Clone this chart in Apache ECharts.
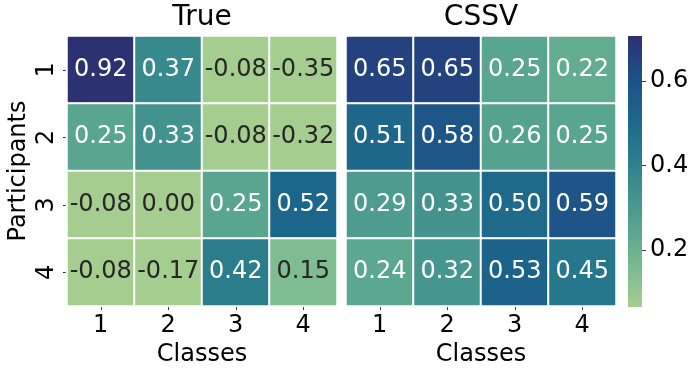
<!DOCTYPE html>
<html>
<head>
<meta charset="utf-8">
<script src="https://cdn.jsdelivr.net/npm/echarts@6/dist/echarts.min.js"></script>
<style>
  html, body { margin: 0; padding: 0; background: #fff; }
  #chart { width: 694px; height: 373px; }
</style>
</head>
<body>
<div id="chart"></div>
<script>
  'use strict'
  // categories
  var classes = ['1', '2', '3', '4'];
  var participants = ['1', '2', '3', '4'];
  // rows = participants, cols = classes
  var trueVals = [
    [0.92, 0.37, -0.08, -0.35],
    [0.25, 0.33, -0.08, -0.32],
    [-0.08, 0.00, 0.25, 0.52],
    [-0.08, -0.17, 0.42, 0.15]
  ];
  var cssvVals = [
    [0.65, 0.65, 0.25, 0.22],
    [0.51, 0.58, 0.26, 0.25],
    [0.29, 0.33, 0.50, 0.59],
    [0.24, 0.32, 0.53, 0.45]
  ];
  var cbarTicks = [0.2, 0.4, 0.6];
  var vmin = 0.066, vmax = 0.706;

  // seaborn "crest"
  var crest = ['#a5cd90', '#7dba91', '#59a590', '#40908e', '#287a8c', '#1c648b', '#1f4e85', '#2c3172'];
  var font = 'DejaVu Sans';
  var fs = 24;

  function buildData(vals) {
    var out = [];
    vals.forEach(function (row, r) {
      row.forEach(function (v, c) {
        var cv = Math.min(vmax, Math.max(vmin, v));
        var t = (cv - vmin) / (vmax - vmin);
        out.push({
          value: [c, r, cv, v],
          label: { color: t > 0.19 ? '#ffffff' : '#262626' }
        });
      });
    });
    return out;
  }

  var chart = echarts.init(document.getElementById('chart'));

  function xAx(idx) {
    return {
      type: 'category', gridIndex: idx, data: classes,
      axisLine: { show: false },
      axisTick: { show: true, alignWithLabel: true, length: 4, lineStyle: { color: '#333' } },
      axisLabel: { fontSize: fs, color: '#000', fontFamily: font, margin: 8 },
      name: 'Classes', nameLocation: 'middle', nameGap: 34,
      nameTextStyle: { fontSize: fs, color: '#000', fontFamily: font },
      splitArea: { show: false }
    };
  }

  var option = {
    animation: false,
    title: [
      { text: 'True', left: 202, top: 4, padding: 0, textAlign: 'center',
        textStyle: { fontSize: 28, fontWeight: 'normal', color: '#000', fontFamily: font } },
      { text: 'CSSV', left: 481, top: 4, padding: 0, textAlign: 'center',
        textStyle: { fontSize: 28, fontWeight: 'normal', color: '#000', fontFamily: font } }
    ],
    grid: [
      { left: 67, top: 36, width: 270, height: 270 },
      { left: 346, top: 36, width: 270, height: 270 },
      { left: 628, top: 36, width: 14, height: 271 }
    ],
    xAxis: [
      xAx(0),
      xAx(1),
      { type: 'category', gridIndex: 2, data: [''], show: false }
    ],
    yAxis: [
      {
        type: 'category', gridIndex: 0, data: participants, inverse: true,
        axisLine: { show: false },
        axisTick: { show: true, alignWithLabel: true, length: 4, lineStyle: { color: '#333' } },
        axisLabel: { fontSize: fs, color: '#000', fontFamily: font, rotate: 90, margin: 8 },
        name: 'Participants', nameLocation: 'middle', nameGap: 36,
        nameTextStyle: { fontSize: fs, color: '#000', fontFamily: font }
      },
      {
        type: 'category', gridIndex: 1, data: participants, inverse: true,
        axisLine: { show: false }, axisTick: { show: false }, axisLabel: { show: false }
      },
      {
        type: 'value', gridIndex: 2, position: 'right', min: vmin, max: vmax,
        axisLine: { show: false },
        splitLine: { show: false },
        axisTick: { show: true, length: 4, customValues: cbarTicks, lineStyle: { color: '#333' } },
        axisLabel: { fontSize: fs, color: '#000', fontFamily: font, margin: 8,
          customValues: cbarTicks, formatter: function (v) { return v.toFixed(1); } }
      }
    ],
    visualMap: {
      type: 'continuous', show: false, dimension: 2, seriesIndex: [0, 1],
      min: vmin, max: vmax, inRange: { color: crest }
    },
    series: [
      {
        type: 'heatmap', xAxisIndex: 0, yAxisIndex: 0,
        data: buildData(trueVals),
        itemStyle: { borderColor: '#fff', borderWidth: 2 },
        label: { show: true, fontSize: fs, fontFamily: font,
          formatter: function (p) { return p.value[3].toFixed(2); } }
      },
      {
        type: 'heatmap', xAxisIndex: 1, yAxisIndex: 1,
        data: buildData(cssvVals),
        itemStyle: { borderColor: '#fff', borderWidth: 2 },
        label: { show: true, fontSize: fs, fontFamily: font,
          formatter: function (p) { return p.value[3].toFixed(2); } }
      },
      {
        type: 'custom', xAxisIndex: 2, yAxisIndex: 2,
        data: [[0, vmin, vmax]],
        encode: { x: 0, y: [1, 2] },
        renderItem: function (params, api) {
          var p0 = api.coord([0, api.value(1)]);
          var p1 = api.coord([0, api.value(2)]);
          var w = api.size([1, 0])[0];
          var stops = crest.map(function (c, i) { return { offset: i / (crest.length - 1), color: c }; });
          return {
            type: 'rect',
            shape: { x: p0[0] - w / 2, y: p1[1], width: w, height: p0[1] - p1[1] },
            style: { fill: new echarts.graphic.LinearGradient(0, 1, 0, 0, stops) }
          };
        }
      }
    ]
  };

  chart.setOption(option);
</script>
</body>
</html>
